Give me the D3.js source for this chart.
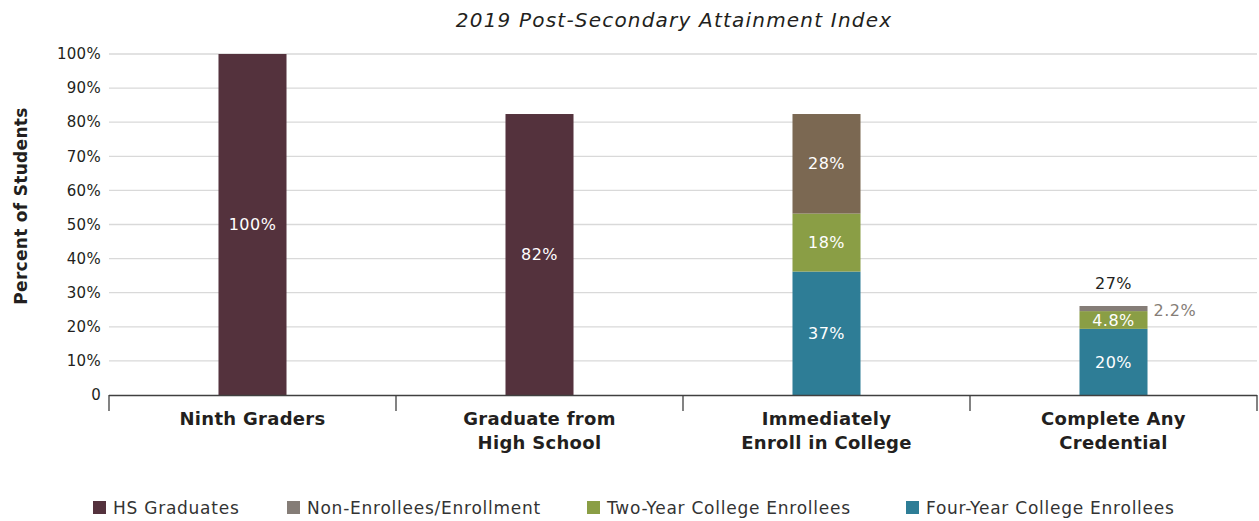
<!DOCTYPE html>
<html><head><meta charset="utf-8">
<script src="https://cdn.jsdelivr.net/npm/d3@7"></script>
<style>body{margin:0;background:#fff;} text{font-family:"DejaVu Sans",sans-serif;}</style>
</head><body><svg id="c" width="1259" height="521"></svg>
<script>
const categories = [["Ninth Graders"],["Graduate from","High School"],["Immediately","Enroll in College"],["Complete Any","Credential"]];
const catKeys = ["c1","c2","c3","c4"];
const hsGraduates = [100, 82.4, 0, 0];
const fourYear = [0, 0, 36.2, 19.4];
const twoYear = [0, 0, 17.0, 5.2];
const nonEnroll = [0, 0, 29.2, 1.5];
const hsLabels = ["100%","82%","",""];
const fourLabels = ["","","37%","20%"];
const twoLabels = ["","","18%","4.8%"];
const nonLabels = ["","","28%","2.2%"];
const totalLabels = ["","","","27%"];
const yTicks = [0,10,20,30,40,50,60,70,80,90,100];
const legendNames = ["HS Graduates","Non-Enrollees/Enrollment","Two-Year College Enrollees","Four-Year College Enrollees"];
const colors = {hs:"#54323d", non:"#7b6852", nonGray:"#857d77", two:"#8a9e45", four:"#2e7d96"};

const svg = d3.select("#c");
const x0 = 109, x1 = 1257, yTop = 54, yBot = 395;
const x = d3.scaleBand().domain(catKeys).range([x0,x1]).paddingInner(0).paddingOuter(0);
const y = d3.scaleLinear().domain([0,100]).range([yBot,yTop]);
const bw = x.bandwidth()*0.237;

// title
svg.append("text").attr("x",674).attr("y",27).attr("text-anchor","middle")
  .attr("font-size",20).attr("font-style","italic").attr("letter-spacing",1.2).attr("fill","#231f20").text("2019 Post-Secondary Attainment Index");

// grid
svg.append("g").selectAll("line").data(yTicks.filter(d=>d>0)).join("line")
  .attr("x1",x0).attr("x2",x1).attr("y1",d=>y(d)).attr("y2",d=>y(d))
  .attr("stroke","#d9d9d9").attr("stroke-width",1.3);

// y labels
svg.append("g").selectAll("text").data(yTicks).join("text")
  .attr("x",101).attr("y",d=>y(d)).attr("dy","0.35em").attr("text-anchor","end")
  .attr("font-size",15).attr("letter-spacing",0.3).attr("fill","#231f20").text(d=>d===0?"0":d+"%");

svg.append("text").attr("transform","translate(27,206) rotate(-90)").attr("text-anchor","middle")
  .attr("font-size",17).attr("font-weight","bold").attr("letter-spacing",0.3).attr("fill","#231f20").text("Percent of Students");

// bars
function seg(vals, bases, color, idxColor){
  svg.append("g").selectAll("rect").data(catKeys.map((k,i)=>({k,i,v:vals[i],b:bases[i]})).filter(d=>d.v>0)).join("rect")
    .attr("x",d=>x(d.k)+x.bandwidth()/2-bw/2).attr("width",bw)
    .attr("y",d=>y(d.b+d.v)).attr("height",d=>y(d.b)-y(d.b+d.v))
    .attr("fill",d=>idxColor?idxColor(d.i):color);
}
const zero=[0,0,0,0];
const b2 = fourYear.map((v,i)=>v);
const b3 = fourYear.map((v,i)=>v+twoYear[i]);
seg(hsGraduates, zero, colors.hs);
seg(fourYear, zero, colors.four);
seg(twoYear, b2, colors.two);
seg(nonEnroll, b3, null, i=>i===3?colors.nonGray:colors.non);

function lab(vals, bases, labels){
  svg.append("g").selectAll("text").data(catKeys.map((k,i)=>({k,i,v:vals[i],b:bases[i],t:labels[i]})).filter(d=>d.t && d.v>3)).join("text")
    .attr("x",d=>x(d.k)+x.bandwidth()/2).attr("y",d=>y(d.b+d.v/2)).attr("dy","0.35em")
    .attr("text-anchor","middle").attr("font-size",16).attr("letter-spacing",0.5).attr("fill","#fff").text(d=>d.t);
}
lab(hsGraduates, zero, hsLabels);
lab(fourYear, zero, fourLabels);
lab(twoYear, b2, twoLabels);
lab(nonEnroll, b3, nonLabels);
// small segment label outside
svg.append("text").attr("x",x("c4")+x.bandwidth()/2+bw/2+6).attr("y",y(b3[3]+nonEnroll[3]/2)+2).attr("dy","0.35em")
  .attr("font-size",16).attr("letter-spacing",0.5).attr("fill","#857d77").text(nonLabels[3]);
// total label
svg.append("text").attr("x",x("c4")+x.bandwidth()/2).attr("y",y(b3[3]+nonEnroll[3])-23).attr("dy","0.35em")
  .attr("text-anchor","middle").attr("font-size",16).attr("letter-spacing",0.5).attr("fill","#231f20").text(totalLabels[3]);

// axis
svg.append("line").attr("x1",x0).attr("x2",x1).attr("y1",yBot+0.5).attr("y2",yBot+0.5).attr("stroke","#404040").attr("stroke-width",1.3);
const bounds = catKeys.map(k=>x(k)).concat([x1]);
svg.append("g").selectAll("line").data(bounds).join("line")
  .attr("x1",d=>d).attr("x2",d=>d).attr("y1",yBot).attr("y2",yBot+16).attr("stroke","#404040").attr("stroke-width",1.3);

// category labels
categories.forEach((lines,i)=>{
  const cx = x(catKeys[i])+x.bandwidth()/2;
  const t = svg.append("text").attr("x",cx).attr("y",425).attr("text-anchor","middle")
    .attr("font-size",18).attr("font-weight","bold").attr("letter-spacing",0.3).attr("fill","#231f20");
  lines.forEach((l,j)=>t.append("tspan").attr("x",cx).attr("dy",j===0?0:24).text(l));
});

// legend
const legX = [93, 287, 587, 906];
const legC = [colors.hs, colors.nonGray, colors.two, colors.four];
legendNames.forEach((n,i)=>{
  svg.append("rect").attr("x",legX[i]).attr("y",501).attr("width",13).attr("height",13).attr("fill",legC[i]);
  svg.append("text").attr("x",legX[i]+20).attr("y",508).attr("dy","0.35em").attr("font-size",17).attr("letter-spacing",0.75).attr("fill","#333").text(n);
});
</script></body></html>
